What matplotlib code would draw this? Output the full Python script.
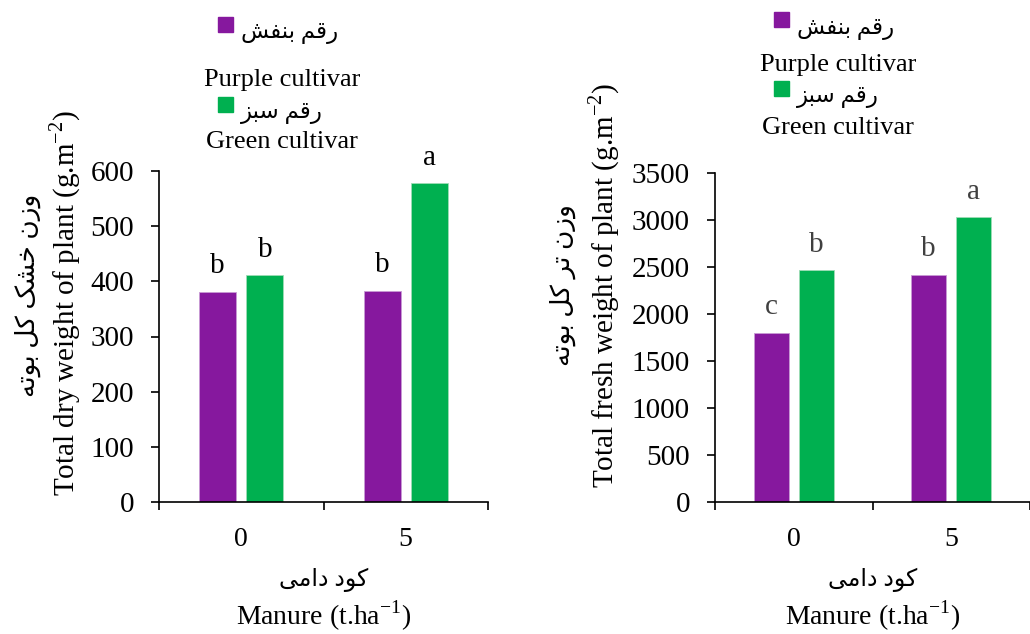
import matplotlib
matplotlib.use("Agg")
import matplotlib.pyplot as plt
from matplotlib.patches import Rectangle
import matplotlib.transforms as mtransforms

plt.rcParams['font.family'] = ['Liberation Serif', 'DejaVu Sans']
plt.rcParams['font.size'] = 18

#Data
doses = ["0", "5"]
dry_purple = [381, 383]
dry_green = [411, 578]
dry_letters_purple = ["b", "b"]
dry_letters_green = ["b", "a"]

fresh_purple = [1801, 2415]
fresh_green = [2465, 3029]
fresh_letters_purple = ["c", "b"]
fresh_letters_green = ["b", "a"]

purple = "#86189E"
green = "#00B050"

#Simple Persian shaping (matplotlib has no bidi / joining)
FORMS = {
    "ر": (0xFEAD, 0xFEAE), "ز": (0xFEAF, 0xFEB0), "و": (0xFEED, 0xFEEE),
    "د": (0xFEA9, 0xFEAA), "ا": (0xFE8D, 0xFE8E),
    "ق": (0xFED5, 0xFED6, 0xFED7, 0xFED8), "م": (0xFEE1, 0xFEE2, 0xFEE3, 0xFEE4),
    "ب": (0xFE8F, 0xFE90, 0xFE91, 0xFE92), "ن": (0xFEE5, 0xFEE6, 0xFEE7, 0xFEE8),
    "ف": (0xFED1, 0xFED2, 0xFED3, 0xFED4), "ش": (0xFEB5, 0xFEB6, 0xFEB7, 0xFEB8),
    "س": (0xFEB1, 0xFEB2, 0xFEB3, 0xFEB4), "خ": (0xFEA5, 0xFEA6, 0xFEA7, 0xFEA8),
    "ک": (0xFB8E, 0xFB8F, 0xFB90, 0xFB91), "ل": (0xFEDD, 0xFEDE, 0xFEDF, 0xFEE0),
    "ت": (0xFE95, 0xFE96, 0xFE97, 0xFE98), "ه": (0xFEE9, 0xFEEA, 0xFEEB, 0xFEEC),
    "ی": (0xFBFC, 0xFBFD, 0xFBFE, 0xFBFF),
}

def fa(text):
    out = []
    for i, ch in enumerate(text):
        if ch not in FORMS:
            out.append(ch)
            continue
        prev = text[i - 1] if i > 0 else " "
        nxt = text[i + 1] if i + 1 < len(text) else " "
        jp = prev in FORMS and len(FORMS[prev]) == 4
        jn = nxt in FORMS and len(FORMS[ch]) == 4
        f = FORMS[ch]
        if jp and jn:
            c = f[3]
        elif jn:
            c = f[2]
        elif jp:
            c = f[1]
        else:
            c = f[0]
        out.append(chr(c))
    return "".join(out[::-1])

fig = plt.figure(figsize=(10.30, 6.34), dpi=100)
W, H = 1030.0, 634.0

def fx(x):
    return x / W

def fy(y):
    return 1 - y / H

ax1 = fig.add_axes([fx(159), fy(502), 329 / W, 331 / H])
ax2 = fig.add_axes([fx(715), fy(502), 315 / W, 329 / H])

def panel(ax, vp, vg, lp, lg, ymax, step, lcolor, xright):
    x = list(range(len(doses)))
    off = 0.143
    bw = 0.225
    b1 = ax.bar([i - off for i in x], vp, bw, color=purple, edgecolor="#c89bd4", linewidth=0.6)
    b2 = ax.bar([i + off for i in x], vg, bw, color=green, edgecolor="#9fdcb6", linewidth=0.6)
    for bars, labs in ((b1, lp), (b2, lg)):
        for r, t in zip(bars, labs):
            ax.annotate(t, (r.get_x() + r.get_width() / 2, r.get_height()),
                        xytext=(0, 9), textcoords="offset points",
                        ha="center", va="bottom", fontsize=21, color=lcolor)
    ax.set_ylim(0, ymax)
    ax.set_yticks(range(0, ymax + 1, step))
    ax.set_xlim(-0.5, xright)
    ax.set_xticks([-0.5, 0.5, 1.5])
    ax.set_xticklabels([])
    ax.set_xticks(x, minor=True)
    ax.set_xticklabels(doses, minor=True)
    ax.tick_params(axis="x", which="minor", length=0, pad=18, labelsize=20)
    ax.tick_params(axis="x", which="major", length=6, width=1.2, direction="out")
    ax.tick_params(axis="y", length=6, width=1.2, direction="out", labelsize=21, pad=12)
    for s in ("top", "right"):
        ax.spines[s].set_visible(False)
    for s in ("left", "bottom"):
        ax.spines[s].set_linewidth(1.2)
    tr = mtransforms.blended_transform_factory(ax.transData, fig.transFigure)
    ax.text(0.5, fy(580), fa("کود دامی"), transform=tr, ha="center", va="center", fontsize=17)
    ax.text(0.5, fy(616), "Manure (t.ha$^{\\mathregular{-1}}$)", transform=tr,
            ha="center", va="center", fontsize=20)

panel(ax1, dry_purple, dry_green, dry_letters_purple, dry_letters_green, 600, 100, "black", 1.5)
panel(ax2, fresh_purple, fresh_green, fresh_letters_purple, fresh_letters_green, 3500, 500, "#404040", 1.444)

#Y labels
fig.text(fx(28), fy(295), fa("وزن خشک کل بوته"), rotation=90, ha="center", va="center", fontsize=19)
fig.text(fx(65), fy(303), "Total dry weight of plant (g.m$^{\\mathregular{-2}}$)", rotation=90,
         ha="center", va="center", fontsize=21)
fig.text(fx(563), fy(285), fa("وزن تر کل بوته"), rotation=90, ha="center", va="center", fontsize=19)
fig.text(fx(604), fy(285), "Total fresh weight of plant (g.m$^{\\mathregular{-2}}$)", rotation=90,
         ha="center", va="center", fontsize=21)

#Legends
def legend(x0, ys):
    sq = 15
    for (ysq, ypers, yeng), col, pers, eng in zip(
            ys, (purple, green), ("رقم بنفش", "رقم سبز"), ("Purple cultivar", "Green cultivar")):
        fig.add_artist(Rectangle((fx(x0), fy(ysq + sq)), sq / W, sq / H,
                                 transform=fig.transFigure, color=col))
        fig.text(fx(x0 + 23), fy(ypers), fa(pers), ha="left", va="center", fontsize=16.5)
        fig.text(fx(x0 + 64), fy(yeng), eng, ha="center", va="center", fontsize=19)

legend(218, [(17, 33, 80), (97, 113, 142)])
legend(774, [(12, 30, 65), (81, 98, 128)])

fig.savefig("out.png", dpi=100)
